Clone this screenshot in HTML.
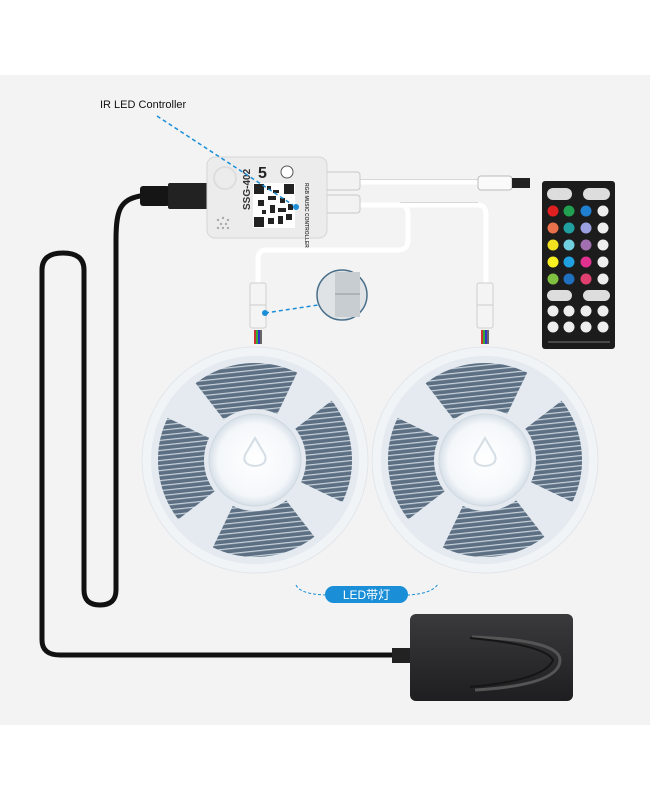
<!DOCTYPE html>
<html><head><meta charset="utf-8"><style>
html,body{margin:0;padding:0;background:#fff;width:650px;height:800px;overflow:hidden}
svg{display:block}
</style></head><body>
<svg width="650" height="800" viewBox="0 0 650 800" xmlns="http://www.w3.org/2000/svg" font-family="Liberation Sans, sans-serif">
<defs>
<pattern id="stripe" width="5" height="5" patternUnits="userSpaceOnUse">
<rect width="5" height="5" fill="#5d6f82"/><rect width="5" height="1.2" fill="#c7d2dc"/>
</pattern>
<radialGradient id="hub" cx="50%" cy="50%" r="50%"><stop offset="0" stop-color="#ffffff"/><stop offset="0.8" stop-color="#f4f7fa"/><stop offset="1" stop-color="#d7e0e8"/></radialGradient>
<linearGradient id="ad" x1="0" y1="0" x2="0" y2="1"><stop offset="0" stop-color="#3a3a3c"/><stop offset="1" stop-color="#1e1e20"/></linearGradient>
</defs>
<rect x="0" y="75" width="650" height="650" fill="#f3f3f3"/>

<g fill="none" stroke="#111" stroke-width="5" stroke-linecap="round">
<path d="M140,196 C120,200 116,210 116,240 L116,590 Q116,605 100,605 Q84,605 84,590 L84,270 Q84,253 63,253 Q42,253 42,270 L42,640 Q42,655 60,655 L410,655"/>
</g>
<rect x="140" y="186" width="30" height="20" rx="3" fill="#151515"/>
<rect x="168" y="183" width="42" height="26" rx="2" fill="#222"/>
<rect x="392" y="648" width="20" height="15" fill="#222"/>

<g fill="none" stroke="#fff" stroke-width="5">
<path d="M360,182 L485,182"/>
<path d="M360,205 L400,205 Q408,205 408,215 L408,240 Q408,250 398,250 L266,250 Q258,250 258,260 L258,285"/>
<path d="M360,205 L478,205 Q486,205 486,215 L486,285"/>
</g>
<g fill="none" stroke="#d8d8d8" stroke-width="1">
<path d="M360,179.5 L485,179.5"/><path d="M400,202.5 L478,202.5"/>
</g>
<rect x="326" y="172" width="34" height="18" rx="3" fill="#f2f2f2" stroke="#c8c8c8"/>
<rect x="326" y="195" width="34" height="18" rx="3" fill="#f2f2f2" stroke="#c8c8c8"/>
<rect x="478" y="176" width="34" height="14" rx="3" fill="#fafafa" stroke="#bbb"/>
<rect x="512" y="178" width="18" height="10" fill="#222"/>

<rect x="207" y="157" width="120" height="81" rx="8" fill="#ececec" stroke="#d6d6d6"/>
<circle cx="225" cy="178" r="11" fill="none" stroke="#ddd" stroke-width="2"/>
<g fill="#aaa"><circle cx="218" cy="220" r="1.2"/><circle cx="223" cy="218" r="1.2"/><circle cx="228" cy="220" r="1.2"/><circle cx="221" cy="224" r="1.2"/><circle cx="226" cy="224" r="1.2"/><circle cx="218" cy="228" r="1.2"/><circle cx="223" cy="228" r="1.2"/><circle cx="228" cy="228" r="1.2"/></g>
<text transform="translate(250,210) rotate(-90)" font-size="10" font-weight="bold" fill="#333">SSG-402</text>
<rect x="253" y="183" width="42" height="45" fill="#fff"/>
<g fill="#222">
<rect x="254" y="184" width="10" height="10"/><rect x="284" y="184" width="10" height="10"/><rect x="254" y="217" width="10" height="10"/>
<rect x="267" y="186" width="4" height="4"/><rect x="273" y="190" width="6" height="3"/><rect x="268" y="196" width="8" height="4"/><rect x="280" y="198" width="5" height="5"/><rect x="258" y="200" width="6" height="6"/><rect x="270" y="205" width="5" height="8"/><rect x="278" y="208" width="8" height="4"/><rect x="288" y="204" width="5" height="6"/><rect x="268" y="218" width="6" height="6"/><rect x="278" y="216" width="5" height="8"/><rect x="286" y="214" width="6" height="6"/><rect x="262" y="210" width="4" height="4"/>
</g>
<text x="258" y="178" font-size="16" font-weight="bold" fill="#222">5</text>
<circle cx="287" cy="172" r="6" fill="#fff" stroke="#555"/>
<text transform="translate(305,183) rotate(90)" font-size="5" font-weight="bold" fill="#444">RGB MUSIC CONTROLLER</text>

<text x="100" y="108" font-size="11" fill="#111">IR LED Controller</text>
<line x1="157" y1="116" x2="293" y2="205" stroke="#1a8fd8" stroke-width="1.5" stroke-dasharray="4,3"/>
<circle cx="296" cy="207" r="3" fill="#1a8fd8"/>

<g>
<rect x="250" y="283" width="16" height="45" rx="2" fill="#f4f4f4" stroke="#cfcfcf"/>
<line x1="250" y1="305" x2="266" y2="305" stroke="#ccc"/>
<rect x="254" y="330" width="2" height="14" fill="#c33"/><rect x="256" y="330" width="2" height="14" fill="#3a3"/><rect x="258" y="330" width="2" height="14" fill="#33c"/><rect x="260" y="330" width="2" height="14" fill="#666"/>
<rect x="477" y="283" width="16" height="45" rx="2" fill="#f4f4f4" stroke="#cfcfcf"/>
<line x1="477" y1="305" x2="493" y2="305" stroke="#ccc"/>
<rect x="481" y="330" width="2" height="14" fill="#c33"/><rect x="483" y="330" width="2" height="14" fill="#3a3"/><rect x="485" y="330" width="2" height="14" fill="#33c"/><rect x="487" y="330" width="2" height="14" fill="#666"/>
</g>
<line x1="265" y1="313" x2="318" y2="305" stroke="#1a8fd8" stroke-width="1.5" stroke-dasharray="4,3"/>
<circle cx="265" cy="313" r="3" fill="#1a8fd8"/>
<circle cx="342" cy="295" r="25" fill="#dfe3e6" stroke="#4a6f8a" stroke-width="1.5"/>
<rect x="335" y="272" width="25" height="45" fill="#c8cdd2"/>
<line x1="335" y1="294" x2="360" y2="294" stroke="#999"/>

<g id="reel">
<circle cx="255" cy="460" r="113" fill="#f1f4f7" stroke="#e2e6ea"/>
<circle cx="255" cy="460" r="104" fill="#e4eaf0"/>
<circle cx="255" cy="460" r="74" fill="none" stroke="url(#stripe)" stroke-width="46" stroke-dasharray="82,34.2" stroke-dashoffset="41" transform="rotate(-6 255 460)"/>
<circle cx="255" cy="460" r="46" fill="url(#hub)" stroke="#d0d8e0"/>
<path d="M245,455 L255,438 L265,455 Q268,465 255,466 Q242,465 245,455 Z" fill="none" stroke="#d5dde5" stroke-width="2"/>
</g>
<use href="#reel" x="230"/>

<path d="M296,585 Q300,594 325,595 M407,595 Q432,594 438,584" fill="none" stroke="#1a8fd8" stroke-width="1" stroke-dasharray="3,2"/>
<rect x="325" y="586" width="83" height="17" rx="8.5" fill="#1a8fd8"/>
<text x="366.5" y="599" font-size="12" fill="#fff" text-anchor="middle" font-family="Liberation Sans, Noto Sans CJK SC, sans-serif">LED带灯</text>

<rect x="410" y="614" width="163" height="87" rx="6" fill="url(#ad)"/>
<path d="M472,637 Q560,640 560,660 Q560,685 475,690" fill="none" stroke="#555" stroke-width="3"/>
<path d="M470,638 Q545,645 553,660 Q545,680 470,687" fill="none" stroke="#151515" stroke-width="2"/>

<rect x="542" y="181" width="73" height="168" rx="3" fill="#1c1c1c"/>
<g>
<rect x="547" y="188" width="25" height="12" rx="6" fill="#ddd"/><rect x="583" y="188" width="27" height="12" rx="6" fill="#ddd"/>
<circle cx="553" cy="211" r="5.5" fill="#e02020"/><circle cx="569" cy="211" r="5.5" fill="#20a050"/><circle cx="586" cy="211" r="5.5" fill="#2080d0"/><circle cx="603" cy="211" r="5.5" fill="#eee"/>
<circle cx="553" cy="228" r="5.5" fill="#e8704a"/><circle cx="569" cy="228" r="5.5" fill="#20a0a0"/><circle cx="586" cy="228" r="5.5" fill="#9aa0e0"/><circle cx="603" cy="228" r="5.5" fill="#eee"/>
<circle cx="553" cy="245" r="5.5" fill="#f0e020"/><circle cx="569" cy="245" r="5.5" fill="#70d0e0"/><circle cx="586" cy="245" r="5.5" fill="#a070b0"/><circle cx="603" cy="245" r="5.5" fill="#eee"/>
<circle cx="553" cy="262" r="5.5" fill="#f8f020"/><circle cx="569" cy="262" r="5.5" fill="#20a0e0"/><circle cx="586" cy="262" r="5.5" fill="#e03090"/><circle cx="603" cy="262" r="5.5" fill="#eee"/>
<circle cx="553" cy="279" r="5.5" fill="#80c040"/><circle cx="569" cy="279" r="5.5" fill="#2070c0"/><circle cx="586" cy="279" r="5.5" fill="#e04070"/><circle cx="603" cy="279" r="5.5" fill="#eee"/>
<rect x="547" y="290" width="25" height="11" rx="5.5" fill="#ddd"/><rect x="583" y="290" width="27" height="11" rx="5.5" fill="#ddd"/>
<circle cx="553" cy="311" r="5.5" fill="#eee"/><circle cx="569" cy="311" r="5.5" fill="#eee"/><circle cx="586" cy="311" r="5.5" fill="#eee"/><circle cx="603" cy="311" r="5.5" fill="#eee"/>
<circle cx="553" cy="327" r="5.5" fill="#eee"/><circle cx="569" cy="327" r="5.5" fill="#eee"/><circle cx="586" cy="327" r="5.5" fill="#eee"/><circle cx="603" cy="327" r="5.5" fill="#eee"/>
<line x1="548" y1="342" x2="610" y2="342" stroke="#777"/>
</g>
</svg>
</body></html>
